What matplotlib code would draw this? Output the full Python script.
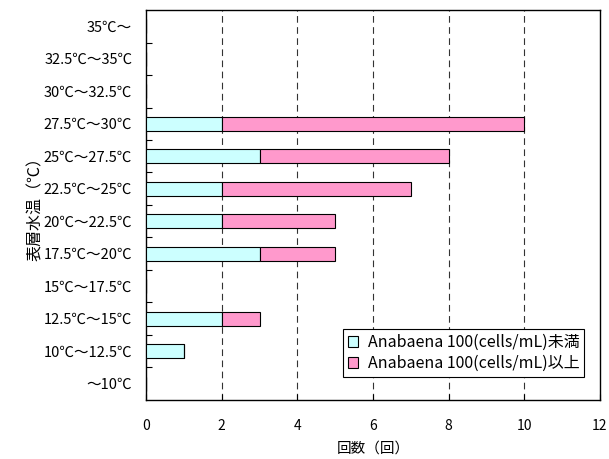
import numpy as np
import matplotlib
matplotlib.use('Agg')
import matplotlib.pyplot as plt
from matplotlib.ticker import MultipleLocator, FixedLocator

plt.rcParams['font.family'] = ['Noto Sans CJK JP', 'DejaVu Sans']

# categories from bottom to top
categories = ['～10℃', '10℃～12.5℃', '12.5℃～15℃', '15℃～17.5℃', '17.5℃～20℃',
              '20℃～22.5℃', '22.5℃～25℃', '25℃～27.5℃', '27.5℃～30℃',
              '30℃～32.5℃', '32.5℃～35℃', '35℃～']
below_100 = [0, 1, 2, 0, 3, 2, 2, 3, 2, 0, 0, 0]
above_100 = [0, 0, 1, 0, 2, 3, 5, 5, 8, 0, 0, 0]
labels = ['Anabaena 100(cells/mL)未満', 'Anabaena 100(cells/mL)以上']

fig = plt.figure(figsize=(6.09, 4.59), dpi=100)
ax = fig.add_axes([0.240, 0.129, 0.745, 0.849])

y = np.arange(len(categories))
h = 0.43
ax.barh(y, below_100, height=h, color='#CCFFFF', edgecolor='black', linewidth=0.8, label=labels[0], zorder=3)
ax.barh(y, above_100, left=below_100, height=h, color='#FF99CC', edgecolor='black', linewidth=0.8, label=labels[1], zorder=3)

ax.set_xlim(0, 12)
ax.set_ylim(-0.5, len(categories) - 0.5)
ax.xaxis.set_major_locator(MultipleLocator(2))
for xv in range(2, 12, 2):
    ax.axvline(xv, color='#333333', linestyle=(0, (6, 4)), linewidth=0.8, zorder=1)

ax.set_yticks(y)
ax.set_yticklabels(categories, fontsize=10.5)
ax.yaxis.set_minor_locator(FixedLocator(np.arange(0.5, len(categories) - 1, 1)))
ax.tick_params(axis='y', which='major', length=0, pad=10)
ax.tick_params(axis='y', which='minor', direction='in', length=4, width=0.8)
ax.tick_params(axis='x', direction='in', length=4, width=0.8, pad=14, labelsize=10)

for side in ['left', 'bottom', 'right', 'top']:
    ax.spines[side].set_linewidth(1.0)

ax.set_xlabel('回数（回）', fontsize=10.5, labelpad=6)
ax.set_ylabel('表層水温（℃）', fontsize=11.5, labelpad=0)

leg = ax.legend(loc='lower right', bbox_to_anchor=(0.983, 0.038), fontsize=11.5, fancybox=False,
                edgecolor='black', framealpha=1, handlelength=0.65, handleheight=0.65,
                handletextpad=0.6, borderpad=0.3, labelspacing=0.25)
leg.get_frame().set_linewidth(0.8)

fig.savefig('out.png', dpi=100)
